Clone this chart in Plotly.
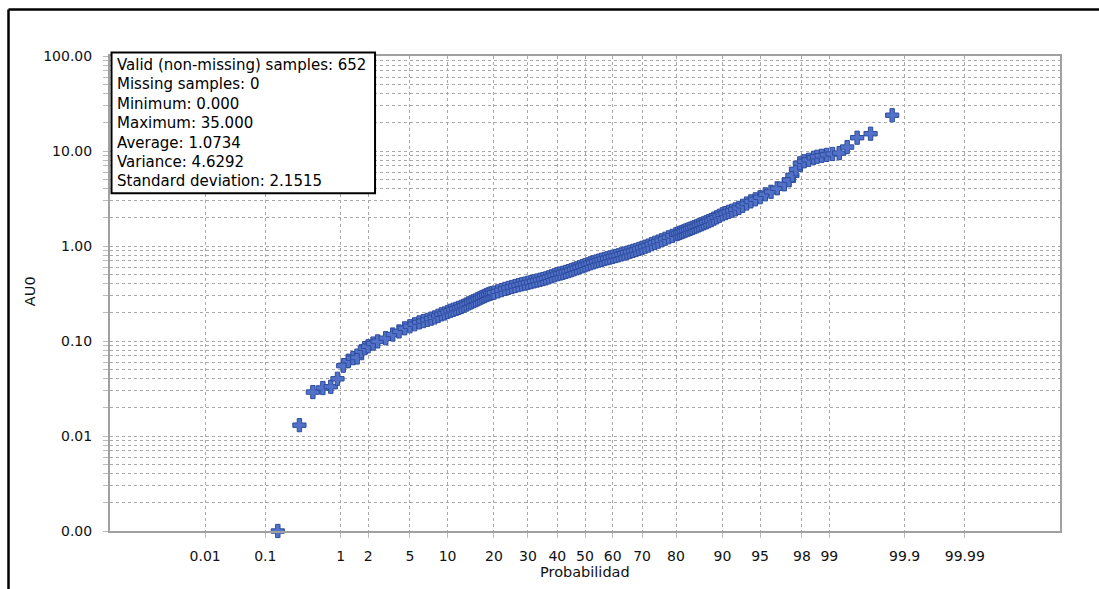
import plotly.graph_objects as go
from statistics import NormalDist

# ---------------- data ----------------
prob_pct = [0.153, 0.306, 0.459, 0.613, 0.766, 0.919, 1.072, 1.225, 1.378, 1.531,
            1.7, 1.85, 2.0, 2.25, 2.5, 3.0, 3.5, 4.0, 4.5, 5.0, 5.5, 6.0, 6.5, 7.0,
            7.5, 8.0, 8.5, 9.0, 9.5, 10, 10.5, 11, 11.5, 12, 12.5, 13, 13.5, 14,
            14.5, 15, 15.5, 16, 16.5, 17, 17.5, 18, 18.5, 19, 19.5, 20,
            21, 22, 23, 24, 25, 26, 27, 28, 29, 30, 31, 32, 33, 34, 35, 36, 37,
            38, 39, 40, 41, 42, 43, 44, 45, 46, 47, 48, 49, 50, 51, 52, 53, 54,
            55, 56, 57, 58, 59, 60, 61, 62, 63, 64, 65, 66, 67, 68, 69, 70, 71,
            72, 73, 74, 75, 76, 77, 78, 79, 80, 80.5, 81, 81.5, 82, 82.5, 83, 83.5,
            84, 84.5, 85, 85.5, 86, 86.5, 87, 87.5, 88, 88.5, 89, 89.5,
            90, 90.5, 91, 91.5, 92, 92.5, 93, 93.5, 94, 94.5, 95, 95.5, 96,
            96.5, 97, 97.3, 97.5, 97.7, 97.9, 98.1, 98.3, 98.5, 98.622, 98.775,
            98.928, 99.081, 99.234, 99.387, 99.541, 99.694, 99.847]

au0 = [0.000, 0.013, 0.029, 0.032, 0.033, 0.040, 0.055, 0.062, 0.066, 0.067,
       0.078, 0.084, 0.088, 0.094, 0.099, 0.107, 0.117, 0.126, 0.136, 0.143,
       0.150, 0.157, 0.162, 0.167, 0.172, 0.177, 0.184, 0.191, 0.195, 0.202,
       0.208, 0.213, 0.218, 0.223, 0.229, 0.235, 0.242, 0.249, 0.255, 0.262,
       0.268, 0.275, 0.282, 0.289, 0.296, 0.303, 0.309, 0.315, 0.319, 0.323,
       0.333, 0.343, 0.353, 0.362, 0.370, 0.379, 0.387, 0.395, 0.402, 0.410,
       0.417, 0.425, 0.433, 0.441, 0.449, 0.457, 0.468, 0.480, 0.492, 0.504,
       0.513, 0.522, 0.533, 0.544, 0.556, 0.569, 0.583, 0.597, 0.612, 0.627,
       0.642, 0.658, 0.672, 0.687, 0.701, 0.716, 0.729, 0.742, 0.756, 0.770,
       0.784, 0.798, 0.815, 0.832, 0.850, 0.869, 0.888, 0.908, 0.932, 0.957,
       0.983, 1.010, 1.045, 1.081, 1.112, 1.148, 1.191, 1.235, 1.280, 1.328,
       1.352, 1.377, 1.402, 1.428, 1.458, 1.488, 1.517, 1.547, 1.579, 1.612,
       1.652, 1.692, 1.734, 1.776, 1.825, 1.874, 1.94, 2.005, 2.08, 2.157,
       2.22, 2.29, 2.35, 2.43, 2.52, 2.65, 2.80, 2.95, 3.10, 3.26, 3.50, 3.72,
       4.05, 4.46, 4.92, 5.55, 6.42, 7.42, 7.79, 8.08, 8.48, 8.7, 8.9, 9.1,
       9.3, 9.5, 11.0, 13.8, 15.2, 23.8]

x_tick_pct = [0.01, 0.1, 1, 2, 5, 10, 20, 30, 40, 50, 60, 70, 80, 90, 95, 98, 99, 99.9, 99.99]
x_tick_text = ["0.01", "0.1", "1", "2", "5", "10", "20", "30", "40", "50", "60",
               "70", "80", "90", "95", "98", "99", "99.9", "99.99"]

y_decades = [0.001, 0.01, 0.1, 1, 10, 100]

stats_lines = ["Valid (non-missing) samples: 652",
               "Missing samples: 0",
               "Minimum: 0.000",
               "Maximum: 35.000",
               "Average: 1.0734",
               "Variance: 4.6292",
               "Standard deviation: 2.1515"]

x_title = "Probabilidad"
y_title = "AU0"

# ---------------- scales ----------------
nd = NormalDist()


def prob_axis(p_pct):
    z = nd.inv_cdf(p_pct / 100.0)
    return z * (1 - 0.019 * abs(z))


Y_FLOOR = y_decades[0]
xs = [prob_axis(p) for p in prob_pct]
ys = [max(v, Y_FLOOR) for v in au0]
xtv = [prob_axis(p) for p in x_tick_pct]

ytv, ytt = [], []
for d in y_decades[:-1]:
    for k in range(1, 10):
        ytv.append(d * k)
        ytt.append(f"{d:.2f}" if k == 1 else "")
ytv.append(y_decades[-1])
ytt.append(f"{y_decades[-1]:.2f}")

FONT = "DejaVu Sans"
GRID = "#a9a9a9"

fig = go.Figure()
fig.add_trace(go.Scatter(
    x=xs, y=ys, mode="markers", cliponaxis=False,
    marker=dict(symbol="cross", size=11, color="#5271c8",
                line=dict(color="#2d4d9e", width=1)),
    showlegend=False, hoverinfo="skip"))

fig.update_layout(
    width=1099, height=589,
    margin=dict(l=110, r=39, t=56, b=58),
    paper_bgcolor="white", plot_bgcolor="white",
    font=dict(family=FONT, size=14, color="#111"),
    xaxis=dict(range=[-4.322, 4.322], tickmode="array", tickvals=xtv, ticktext=x_tick_text,
               showgrid=True, gridcolor=GRID, griddash="dot", gridwidth=1,
               zeroline=False, showline=True, linecolor="#a0a0a0", linewidth=2, mirror=True,
               ticks="outside", ticklen=5, tickcolor="#bbbbbb", ticklabelstandoff=6,
               tickfont=dict(family=FONT, size=14, color="#111")),
    yaxis=dict(type="log", range=[-3, 2], tickmode="array", tickvals=ytv, ticktext=ytt,
               showgrid=True, gridcolor=GRID, griddash="dot", gridwidth=1,
               zeroline=False, showline=True, linecolor="#a0a0a0", linewidth=2, mirror=True,
               ticks="outside", ticklen=5, tickcolor="#bbbbbb", ticklabelstandoff=8,
               tickfont=dict(family=FONT, size=14, color="#111")),
)

# axis titles
fig.add_annotation(text=x_title, xref="paper", yref="paper", x=0.5, y=-0.0857,
                   xanchor="center", yanchor="middle", showarrow=False,
                   font=dict(family=FONT, size=14.5, color="#111"))
fig.add_annotation(text=y_title, xref="paper", yref="paper", x=-0.0842, y=0.505,
                   xanchor="center", yanchor="middle", showarrow=False, textangle=-90,
                   font=dict(family=FONT, size=14.5, color="#111"))

# statistics box
fig.add_shape(type="rect", xref="paper", yref="paper", x0=0.0016, x1=0.279, y0=0.711, y1=1.0074,
              line=dict(color="black", width=2), fillcolor="white", layer="above")
line_py = [65, 84, 103.7, 123.3, 142.7, 161.7, 181]
for txt, py in zip(stats_lines, line_py):
    fig.add_annotation(text=txt, xref="paper", yref="paper", x=(115 - 110) / 950,
                       y=(531 - py) / 475, xanchor="left", yanchor="middle", showarrow=False,
                       font=dict(family=FONT, size=15, color="black"))

# outer frame (left and top black lines)
fig.add_shape(type="line", xref="paper", yref="paper", x0=(8.5 - 110) / 950, x1=(8.5 - 110) / 950,
              y0=(531 - 9.5) / 475, y1=(531 - 600) / 475, line=dict(color="black", width=2.5))
fig.add_shape(type="line", xref="paper", yref="paper", x0=(8.5 - 110) / 950, x1=(1100 - 110) / 950,
              y0=(531 - 9.5) / 475, y1=(531 - 9.5) / 475, line=dict(color="black", width=2.5))

fig.write_html("out.html")
